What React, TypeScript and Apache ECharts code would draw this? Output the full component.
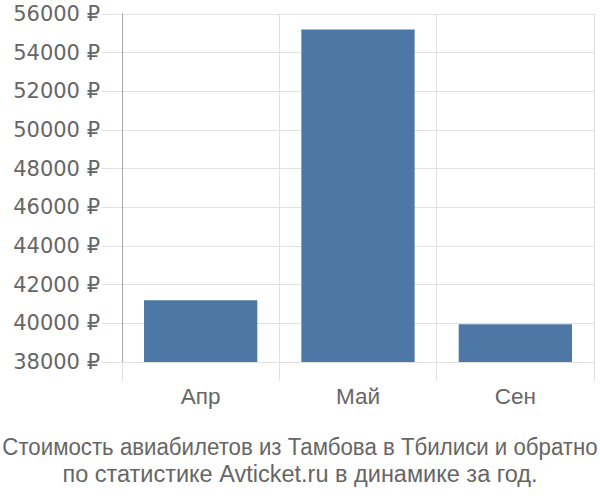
import React, { useEffect, useRef } from "react";
import * as echarts from "echarts";

const categories = ["Апр", "Май", "Сен"];
const prices = [41200, 55200, 39950];
const yMin = 38000;
const yMax = 56000;
const yStep = 2000;
const titleLines = [
  "Стоимость авиабилетов из Тамбова в Тбилиси и обратно",
  "по статистике Avticket.ru в динамике за год.",
];

export default function App() {
  const ref = useRef<HTMLDivElement>(null);
  useEffect(() => {
    if (!ref.current) return;
    const chart = echarts.init(ref.current, null, { renderer: "svg" });
    const titleFont = "Liberation Sans, Arial, sans-serif";
    chart.setOption({
      animation: false,
      textStyle: { fontFamily: "Liberation Sans, Arial, sans-serif" },
      grid: { left: 122, right: 6, top: 14, bottom: 138, containLabel: false },
      graphic: [
        {
          type: "text",
          x: 300,
          y: 447,
          scaleX: 0.947,
          style: {
            text: titleLines[0],
            fontSize: 23.5,
            fontFamily: titleFont,
            fill: "#666",
            textAlign: "center",
            textVerticalAlign: "middle",
          },
        },
        {
          type: "text",
          x: 300,
          y: 474,
          style: {
            text: titleLines[1],
            fontSize: 23.5,
            fontFamily: titleFont,
            fill: "#666",
            textAlign: "center",
            textVerticalAlign: "middle",
          },
        },
      ],
      xAxis: {
        type: "category",
        data: categories,
        axisLine: { show: false },
        axisTick: { show: true, length: 19, lineStyle: { color: "#e0e0e0" } },
        splitLine: { show: true, lineStyle: { color: "#e0e0e0" } },
        axisLabel: { fontSize: 22.5, color: "#666", margin: 23 },
      },
      yAxis: {
        type: "value",
        min: yMin,
        max: yMax,
        interval: yStep,
        axisLine: { show: true, lineStyle: { color: "#aaa" } },
        axisTick: { show: true, length: 20, lineStyle: { color: "#e0e0e0" } },
        splitLine: { show: true, lineStyle: { color: "#e0e0e0" } },
        axisLabel: {
          fontSize: 21,
          color: "#666",
          margin: 22,
          fontFamily: "DejaVu Sans, sans-serif",
          formatter: (v: number) => `${v} ₽`,
        },
      },
      series: [
        {
          type: "bar",
          data: prices,
          barCategoryGap: "28%",
          itemStyle: { color: "#4d78a5" },
        },
      ],
    });
    return () => chart.dispose();
  }, []);
  return (
    <div
      ref={ref}
      style={{ position: "absolute", left: 0, top: 0, width: 600, height: 500 }}
    />
  );
}
